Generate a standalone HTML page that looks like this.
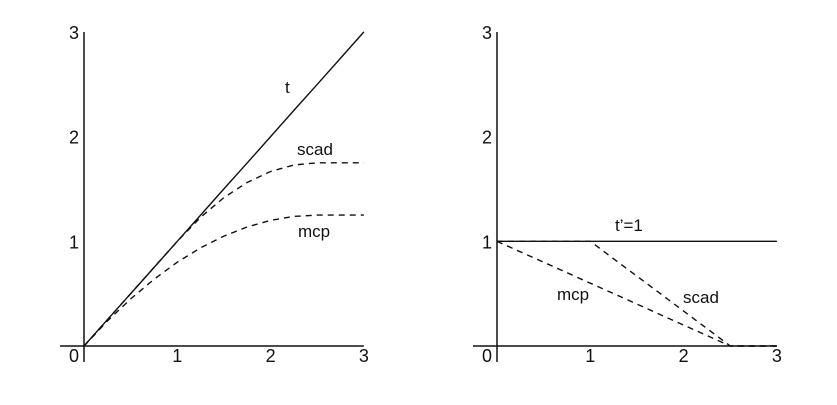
<!DOCTYPE html>
<html><head><meta charset="utf-8"><style>
body{margin:0;background:#fff}
svg text{font-family:"Liberation Sans",Arial,sans-serif;fill:#111}
</style></head><body>
<svg id="c" width="837" height="400"></svg>
<script>
const xs=[0,0.25,0.5,0.75,1,1.25,1.5,1.75,2,2.25,2.5,2.75,3];
const tVals=[0,0.25,0.5,0.75,1,1.25,1.5,1.75,2,2.25,2.5,2.75,3];
const scadVals=[0,0.25,0.5,0.75,1,1.229,1.417,1.5625,1.667,1.729,1.75,1.75,1.75];
const mcpVals=[0,0.2375,0.45,0.6375,0.8,0.9375,1.05,1.1375,1.2,1.2375,1.25,1.25,1.25];
const dtVals=[1,1,1,1,1,1,1,1,1,1,1,1,1];
const dscadVals=[1,1,1,1,1,0.833,0.667,0.5,0.333,0.167,0,0,0];
const dmcpVals=[1,0.9,0.8,0.7,0.6,0.5,0.4,0.3,0.2,0.1,0,0,0];
const tickLabels=["0","1","2","3"];
const NS="http://www.w3.org/2000/svg";
const svg=document.getElementById('c');
function mk(tag,attrs,name){const e=document.createElementNS(NS,tag);for(const k in attrs)e.setAttribute(k,attrs[k]);


svg.appendChild(e);return e;}
function panel(ox,p,series,labels){
  const sx=v=>ox+v*93.3, sy=v=>346-v*104.7;
  mk('line',{x1:ox-24,y1:346,x2:sx(3),y2:346,stroke:'#111','stroke-width':1.5},p+'-x-axis');
  mk('line',{x1:ox,y1:32,x2:ox,y2:362,stroke:'#111','stroke-width':1.5},p+'-y-axis');
  tickLabels.forEach((t,i)=>{
    if(i>0){const tx=mk('text',{x:sx(i),y:362,'font-size':18,'text-anchor':'middle'},p+'-x-tick-'+t);tx.textContent=t;}
    const ty=mk('text',{x:ox-5,y:(i==0?362:sy(i)+7),'font-size':18,'text-anchor':'end'},p+'-y-tick-'+t);ty.textContent=t;
  });
  series.forEach(s=>{
    const d=xs.map((x,i)=>(i?'L':'M')+sx(x).toFixed(1)+','+sy(s.v[i]).toFixed(1)).join(' ');
    const a={d:d,fill:'none',stroke:'#111','stroke-width':1.4};
    if(s.dash)a['stroke-dasharray']='6,5';
    mk('path',a,p+'-'+s.n+'-line');
  });
  labels.forEach(l=>{const t=mk('text',{x:l[1],y:l[2],'font-size':17},p+'-'+l[0].replace(/[^a-z]/gi,'')+'-label');t.textContent=l[0];});
}
panel(84,'left',[{n:'t',v:tVals},{n:'scad',v:scadVals,dash:1},{n:'mcp',v:mcpVals,dash:1}],
 [['t',285,93],['scad',297,155],['mcp',298,237]]);
panel(497,'right',[{n:'t-prime',v:dtVals},{n:'scad',v:dscadVals,dash:1},{n:'mcp',v:dmcpVals,dash:1}],
 [['t\u2019=1',615,231],['mcp',557,300],['scad',683,303]]);
</script>
</body></html>
